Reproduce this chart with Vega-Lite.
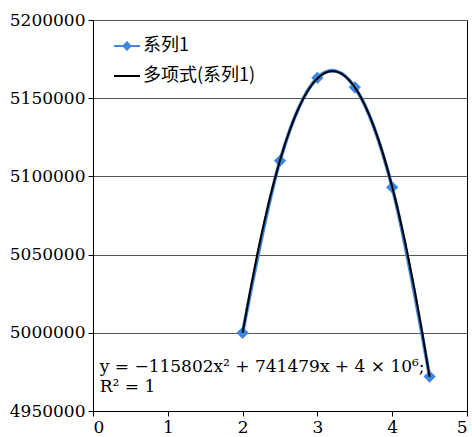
{
  "$schema": "https://vega.github.io/schema/vega-lite/v6.json",
  "width": 374,
  "height": 391,
  "autosize": {"type": "none"},
  "padding": {"left": 93, "top": 20, "right": 5, "bottom": 26},
  "config": {
    "font": "DejaVu Serif",
    "view": {"stroke": "black", "strokeWidth": 1},
    "axis": {"labelFont": "DejaVu Serif", "labelFontSize": 17, "labelColor": "black", "domainColor": "black", "tickColor": "black", "tickSize": 5, "gridColor": "#555555", "gridOpacity": 1, "labelPadding": 3}
  },
  "data": {
    "values": [
      {"x": 2, "y": 5000000, "series": "系列1"},
      {"x": 2.5, "y": 5110000, "series": "系列1"},
      {"x": 3, "y": 5163000, "series": "系列1"},
      {"x": 3.5, "y": 5157000, "series": "系列1"},
      {"x": 4, "y": 5093000, "series": "系列1"},
      {"x": 4.5, "y": 4972000, "series": "系列1"}
    ]
  },
  "layer": [
    {
      "mark": {"type": "line", "strokeWidth": 3.5, "interpolate": "cardinal"},
      "encoding": {
        "x": {"field": "x", "type": "quantitative", "scale": {"domain": [0, 5], "nice": false}, "axis": {"values": [0, 1, 2, 3, 4, 5], "format": "d", "grid": false, "title": null}},
        "y": {"field": "y", "type": "quantitative", "scale": {"domain": [4950000, 5200000], "nice": false, "zero": false}, "axis": {"values": [4950000, 5000000, 5050000, 5100000, 5150000, 5200000], "format": "d", "grid": true, "title": null}},
        "color": {
          "field": "series", "type": "nominal",
          "scale": {"domain": ["系列1", "多项式(系列1)"], "range": ["#3d85e0", "black"]},
          "legend": {
            "title": null, "orient": "none", "legendX": 20, "legendY": 12, "padding": 0,
            "labelFont": "Noto Sans CJK SC", "labelFontSize": 18, "labelColor": "black",
            "rowPadding": 7, "symbolSize": 676, "symbolStrokeWidth": 2, "labelOffset": 2,
            "encode": {
              "symbols": {
                "update": {
                  "shape": {"signal": "datum.value === '系列1' ? 'M-1,0L1,0M0,-0.27L0.27,0L0,0.27L-0.27,0Z' : 'M-1,0L1,0'"},
                  "fill": {"signal": "datum.value === '系列1' ? '#3d85e0' : 'transparent'"},
                  "stroke": {"signal": "datum.value === '系列1' ? '#3d85e0' : 'black'"},
                  "strokeWidth": {"value": 2}
                }
              }
            }
          }
        }
      }
    },
    {
      "mark": {"type": "point", "shape": "diamond", "filled": true, "size": 150, "opacity": 1},
      "encoding": {
        "x": {"field": "x", "type": "quantitative"},
        "y": {"field": "y", "type": "quantitative"},
        "color": {"field": "series", "type": "nominal", "legend": null}
      }
    },
    {
      "transform": [{"regression": "y", "on": "x", "method": "poly", "order": 2, "extent": [2, 4.5]}],
      "mark": {"type": "line", "strokeWidth": 2, "interpolate": "monotone"},
      "encoding": {
        "x": {"field": "x", "type": "quantitative"},
        "y": {"field": "y", "type": "quantitative"},
        "color": {"datum": "多项式(系列1)"}
      }
    },
    {
      "data": {"values": [{"label": "equation"}]},
      "mark": {"type": "text", "align": "left", "baseline": "middle", "font": "DejaVu Serif", "fontSize": 17, "fontWeight": "normal", "lineHeight": 20, "color": "black"},
      "encoding": {
        "x": {"datum": 0.09},
        "y": {"datum": 4978300},
        "text": {"value": ["y = −115802x² + 741479x + 4 × 10⁶;", "R² = 1"]}
      }
    }
  ]
}
